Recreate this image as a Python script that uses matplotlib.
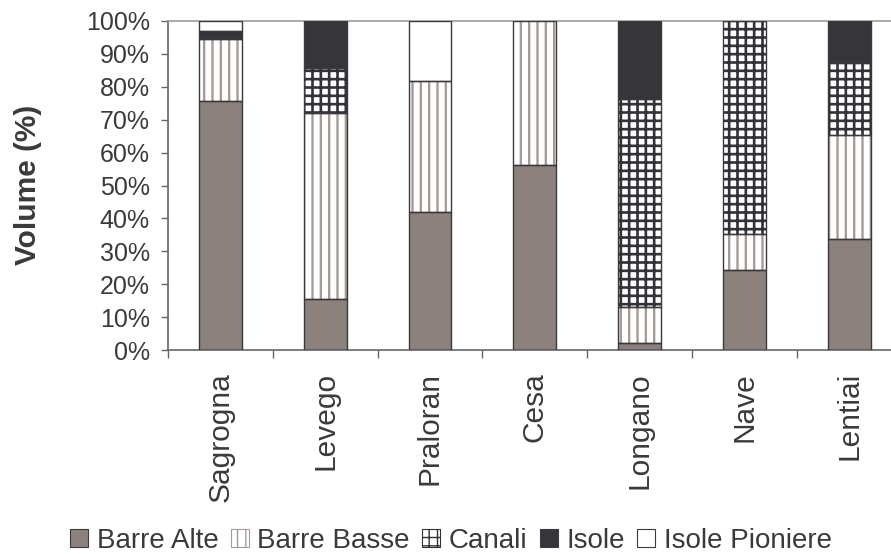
import matplotlib
matplotlib.use("Agg")
import matplotlib.pyplot as plt
import numpy as np
from matplotlib.patches import Patch

plt.rcParams['font.family'] = ['Liberation Sans', 'DejaVu Sans']

categories = ["Sagrogna", "Levego", "Praloran", "Cesa", "Longano", "Nave", "Lentiai"]
barre_alte = [75.8, 15.6, 41.9, 56.2, 2.0, 24.3, 33.7]
barre_basse = [18.6, 56.4, 40.0, 43.8, 11.2, 11.0, 31.6]
canali = [0.0, 13.8, 0.0, 0.0, 63.0, 64.7, 22.0]
isole = [2.7, 14.2, 0.0, 0.0, 23.8, 0.0, 12.7]
isole_pioniere = [2.9, 0.0, 18.1, 0.0, 0.0, 0.0, 0.0]
yticks = [0, 10, 20, 30, 40, 50, 60, 70, 80, 90, 100]
ytick_labels = [f"{v}%" for v in yticks]

series = [
    ("Barre Alte", barre_alte, dict(fc="#8c817d", hatch=None, hc=None, hlw=1.0)),
    ("Barre Basse", barre_basse, dict(fc="white", hatch="||", hc="#a89b97", hlw=1.7)),
    ("Canali", canali, dict(fc="white", hatch="++", hc="#333238", hlw=1.9)),
    ("Isole", isole, dict(fc="#36353a", hatch=None, hc=None, hlw=1.0)),
    ("Isole Pioniere", isole_pioniere, dict(fc="white", hatch=None, hc=None, hlw=1.0)),
]

TEXT = "#3a3a3a"
EDGE = "#3a3a3e"

fig = plt.figure(figsize=(8.91, 5.54), dpi=100)
ax = fig.add_axes([168/891, 1-350/554, 733.6/891, 329/554])

x = np.arange(len(categories))
width = 0.41
bottom = np.zeros(len(categories))
handles = []
for name, vals, st in series:
    vals = np.array(vals)
    plt.rcParams['hatch.linewidth'] = st["hlw"]
    if st["hatch"]:
        ax.bar(x, vals, width, bottom=bottom, color=st["fc"], edgecolor=st["hc"],
               hatch=st["hatch"], linewidth=0, zorder=2)
        handles.append(Patch(facecolor=st["fc"], edgecolor=st["hc"], hatch=st["hatch"],
                             linewidth=0.8, label=name))
    else:
        ax.bar(x, vals, width, bottom=bottom, color=st["fc"], linewidth=0, zorder=2)
        handles.append(Patch(facecolor=st["fc"], edgecolor=EDGE, linewidth=0.8, label=name))
    mask = vals > 0
    ax.bar(x[mask], vals[mask], width, bottom=bottom[mask], fill=False,
           edgecolor=EDGE, linewidth=1.0, zorder=3)
    bottom = bottom + vals

ax.set_xlim(-0.5, len(categories) - 0.5)
ax.set_ylim(0, 100)
ax.set_yticks(yticks)
ax.set_yticklabels(ytick_labels, fontsize=18, color=TEXT)
ax.tick_params(axis='y', length=5, width=1, color="#666666", pad=8)

ax.set_xticks(np.arange(len(categories) + 1) - 0.5)
ax.set_xticklabels([])
ax.set_xticks(x, minor=True)
ax.set_xticklabels(categories, minor=True, rotation=90, fontsize=21.5, color=TEXT)
ax.tick_params(axis='x', which='major', length=6, width=1, color="#666666")
ax.tick_params(axis='x', which='minor', length=0, pad=16)

for s in ["left", "bottom"]:
    ax.spines[s].set_color("#666666")
    ax.spines[s].set_linewidth(1.2)
ax.spines["top"].set_color("#a09a9a")
ax.spines["top"].set_linewidth(1.2)
ax.spines["right"].set_visible(False)

fig.text(28/891, 1-185/554, "Volume (%)", rotation=90, fontsize=21.5, fontweight='bold',
         color=TEXT, ha='center', va='center')

leg = fig.legend(handles=handles, loc='center', bbox_to_anchor=(451/891, 1-541/554), ncol=5,
                 frameon=False, fontsize=20, handlelength=0.65, handleheight=0.6,
                 handletextpad=0.3, columnspacing=0.45, borderpad=0, borderaxespad=0)
for t in leg.get_texts():
    t.set_color(TEXT)

fig.savefig("out.png", dpi=100)
